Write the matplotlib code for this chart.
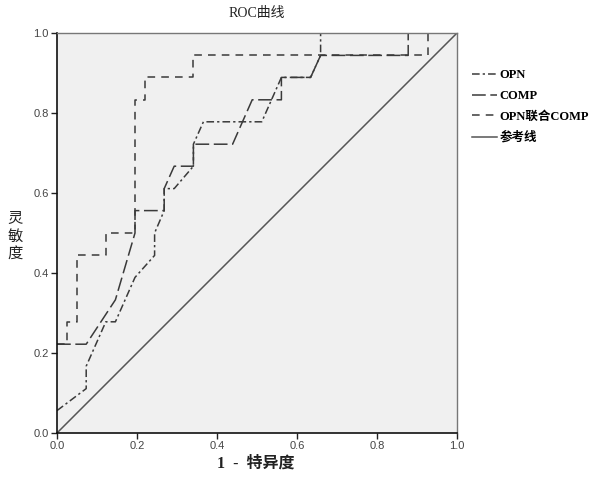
import numpy as np
import matplotlib
matplotlib.use('Agg')
import matplotlib.pyplot as plt

plt.rcParams['font.family'] = ['Liberation Sans', 'Noto Sans CJK SC']

# ROC curve points (1 - specificity, sensitivity)
opn_x = [0.0, 0.073, 0.073, 0.122, 0.146, 0.195, 0.244, 0.244, 0.268, 0.268, 0.293, 0.341,
         0.341, 0.366, 0.512, 0.561, 0.634, 0.659, 0.659, 1.0]
opn_y = [0.056, 0.111, 0.167, 0.278, 0.278, 0.389, 0.444, 0.5, 0.556, 0.611, 0.611, 0.667,
         0.722, 0.778, 0.778, 0.889, 0.889, 0.944, 1.0, 1.0]

comp_x = [0.0, 0.073, 0.146, 0.195, 0.195, 0.268, 0.268, 0.293, 0.341, 0.341, 0.439, 0.488,
          0.561, 0.561, 0.634, 0.659, 0.878, 0.878, 1.0]
comp_y = [0.222, 0.222, 0.333, 0.5, 0.556, 0.556, 0.611, 0.667, 0.667, 0.722, 0.722, 0.833,
          0.833, 0.889, 0.889, 0.944, 0.944, 1.0, 1.0]

both_x = [0.0, 0.024, 0.024, 0.049, 0.049, 0.122, 0.122, 0.195, 0.195, 0.22, 0.22, 0.341,
          0.341, 0.927, 0.927, 1.0]
both_y = [0.222, 0.222, 0.278, 0.278, 0.444, 0.444, 0.5, 0.5, 0.833, 0.833, 0.889, 0.889,
          0.944, 0.944, 1.0, 1.0]

ref_x = [0.0, 1.0]
ref_y = [0.0, 1.0]

labels = ['OPN', 'COMP', 'OPN联合COMP', '参考线']
ticks = [0.0, 0.2, 0.4, 0.6, 0.8, 1.0]

fig = plt.figure(figsize=(6.06, 4.82), dpi=100)
ax = fig.add_axes([57/606, 1 - 433/482, 400/606, 400/482])
ax.set_facecolor('#f0f0f0')

line_col = '#3a3a3a'
ax.plot(opn_x, opn_y, color=line_col, lw=1.1, linestyle=(0, (5, 2, 1.5, 2)), label=labels[0])
ax.plot(comp_x, comp_y, color=line_col, lw=1.1, linestyle=(0, (9, 3)), label=labels[1])
ax.plot(both_x, both_y, color=line_col, lw=1.1, linestyle=(0, (5, 4)), label=labels[2])
ax.plot(ref_x, ref_y, color='#555555', lw=1.1, linestyle='-', label=labels[3])

ax.set_xlim(0, 1)
ax.set_ylim(0, 1)
ax.set_xticks(ticks)
ax.set_yticks(ticks)
ax.set_xticklabels([f'{t:.1f}' for t in ticks])
ax.set_yticklabels([f'{t:.1f}' for t in ticks])
ax.tick_params(direction='out', length=4, width=1, labelsize=8, colors='#222222',
               labelcolor='#444444', pad=2)

for s in ['left', 'bottom']:
    ax.spines[s].set_color('#111111')
    ax.spines[s].set_linewidth(1.2)
for s in ['top', 'right']:
    ax.spines[s].set_color('#777777')
    ax.spines[s].set_linewidth(1.0)

serif = ['Liberation Serif', 'Noto Sans CJK SC']
fig.text(257/606, 1 - 13/482, 'ROC曲线', ha='center', va='center', fontsize=10,
         family=serif, color='#222222')
fig.text(15/606, 1 - 236/482, '灵\n敏\n度', ha='center', va='center', fontsize=11,
         family=['Noto Sans CJK SC'], color='#222222', linespacing=1.05)
fig.text(256/606, 1 - 464/482, '1  -  特异度', ha='center', va='center', fontsize=11.5,
         family=serif, fontweight='bold', color='#222222')

leg = ax.legend(loc='upper left', bbox_to_anchor=(461/606, 1 - 58/482),
                bbox_transform=fig.transFigure, frameon=False,
                handlelength=2.0, handletextpad=0.2, labelspacing=0.7,
                prop={'family': serif, 'weight': 'bold', 'size': 9})

fig.savefig('out.png', dpi=100, facecolor='white')
